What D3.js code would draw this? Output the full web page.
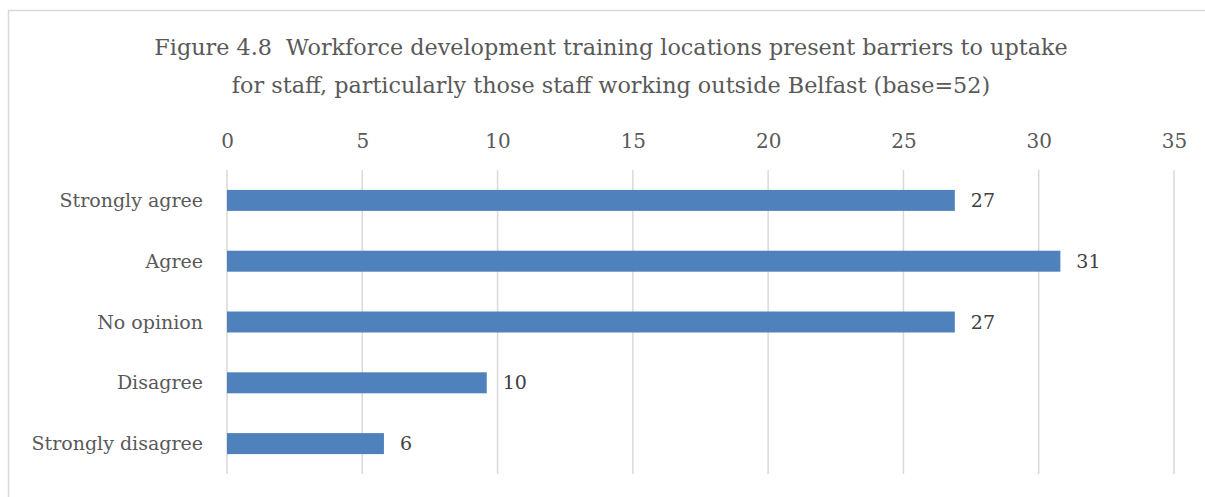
<!DOCTYPE html>
<html>
<head>
<meta charset="utf-8">
<script src="https://cdn.jsdelivr.net/npm/d3@7"></script>
<style>
  body { margin: 0; background: #fff; }
  text { font-family: "DejaVu Serif", "Liberation Serif", serif; }
</style>
</head>
<body>
<div id="chart"></div>
<script>
var titleLines = ['Figure 4.8  Workforce development training locations present barriers to uptake',
                  'for staff, particularly those staff working outside Belfast (base=52)'];
var categories = ['Strongly agree', 'Agree', 'No opinion', 'Disagree', 'Strongly disagree'];
var values = [26.9, 30.8, 26.9, 9.6, 5.8];
var xTicks = [0, 5, 10, 15, 20, 25, 30, 35];

var width = 1205, height = 497;
var margin = { top: 170, right: 31, bottom: 23, left: 227 };

var svg = d3.select('#chart').append('svg')
  .attr('width', width)
  .attr('height', height);

// outer chart border
svg.append('rect')
  .attr('x', 8.5).attr('y', 10.5)
  .attr('width', width + 10).attr('height', height + 10)
  .attr('fill', 'none')
  .attr('stroke', '#d9d9d9')
  .attr('stroke-width', 1.5);

var x = d3.scaleLinear().domain([0, 35]).range([margin.left, width - margin.right]);
var y = d3.scaleBand().domain(categories)
  .range([margin.top, height - margin.bottom])
  .paddingInner(0.655).paddingOuter(0.3275);

// gridlines
svg.append('g')
  .selectAll('line')
  .data(xTicks)
  .enter()
  .append('line')
  .attr('x1', function (d) { return x(d); })
  .attr('x2', function (d) { return x(d); })
  .attr('y1', margin.top)
  .attr('y2', height - margin.bottom)
  .attr('stroke', '#d9d9d9')
  .attr('stroke-width', 1.5);

// top axis labels
var xAxis = svg.append('g')
  .attr('transform', 'translate(0,' + 148 + ')')
  .call(d3.axisTop(x).tickValues(xTicks).tickSize(0).tickPadding(0));
xAxis.select('.domain').remove();
xAxis.selectAll('text')
  .attr('fill', '#595959')
  .style('font-size', '20px');

// category labels
var yAxis = svg.append('g')
  .attr('transform', 'translate(' + (margin.left - 24) + ',0)')
  .call(d3.axisLeft(y).tickSize(0).tickPadding(0));
yAxis.select('.domain').remove();
yAxis.selectAll('text')
  .attr('fill', '#595959')
  .attr('dy', '0.35em')
  .style('font-size', '19px');

// bars
svg.selectAll('.bar')
  .data(values)
  .enter()
  .append('rect')
  .attr('class', 'bar')
  .attr('x', x(0))
  .attr('y', function (d, i) { return y(categories[i]); })
  .attr('width', function (d) { return x(d) - x(0); })
  .attr('height', y.bandwidth())
  .attr('fill', '#4f81bd');

// value labels
svg.selectAll('.val')
  .data(values)
  .enter()
  .append('text')
  .attr('class', 'val')
  .attr('x', function (d) { return x(d) + 16; })
  .attr('y', function (d, i) { return y(categories[i]) + y.bandwidth() / 2; })
  .attr('dy', '0.35em')
  .attr('fill', '#404040')
  .style('font-size', '19px')
  .text(function (d) { return d3.format('.0f')(d); });

// title
svg.append('g')
  .selectAll('text')
  .data(titleLines)
  .enter()
  .append('text')
  .attr('x', 611)
  .attr('y', function (d, i) { return 55 + i * 38; })
  .attr('text-anchor', 'middle')
  .attr('fill', '#595959')
  .style('font-size', '22.3px')
  .style('white-space', 'pre')
  .text(function (d) { return d; });
</script>
</body>
</html>
